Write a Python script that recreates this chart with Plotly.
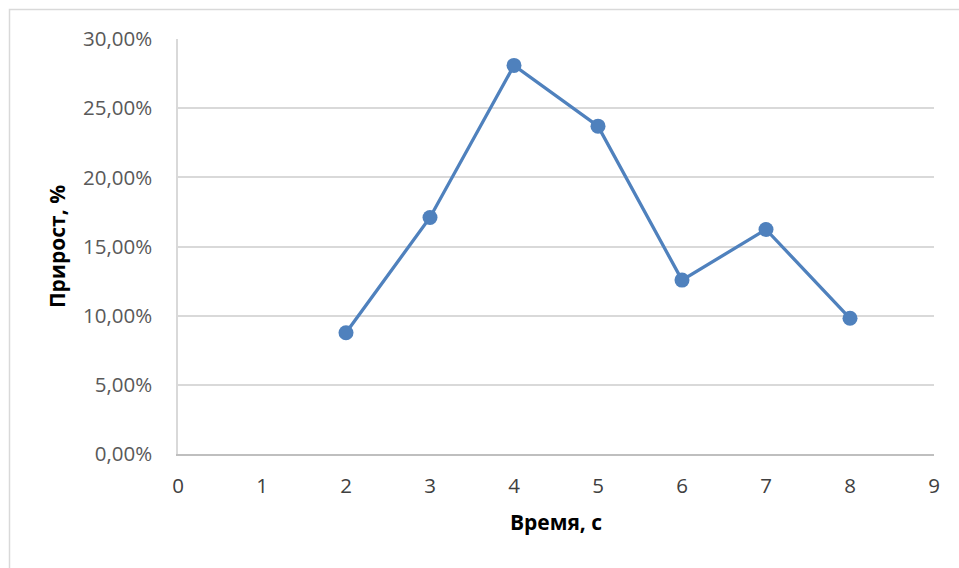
import plotly.graph_objects as go

# Measured growth per time step
time_s = [2, 3, 4, 5, 6, 7, 8]
growth = [0.0877, 0.1710, 0.2809, 0.2370, 0.1257, 0.1623, 0.0981]

y_ticks = [0, 0.05, 0.10, 0.15, 0.20, 0.25, 0.30]
x_ticks = [0, 1, 2, 3, 4, 5, 6, 7, 8, 9]

x_title = "Время, с"
y_title = "Прирост, %"

blue = "#4f81bd"
font_family = "Open Sans, Lato, sans-serif"

fig = go.Figure()
fig.add_trace(go.Scatter(
    x=time_s,
    y=growth,
    mode="lines+markers",
    line=dict(color=blue, width=3.3),
    marker=dict(color=blue, size=15),
    showlegend=False,
    hoverinfo="x+y",
))

fig.update_layout(
    width=959,
    height=568,
    margin=dict(l=178, r=25, t=39, b=114, pad=0),
    paper_bgcolor="white",
    plot_bgcolor="white",
    separators=", ",
    font=dict(family=font_family, color="#595959", size=20),
    xaxis=dict(
        range=[0, 9],
        tickvals=x_ticks,
        showgrid=False,
        zeroline=False,
        showline=True,
        linecolor="#bfbfbf",
        linewidth=2,
        ticks="",
        ticklabelstandoff=12,
        tickfont=dict(size=20.5, color="#404040"),
        title=dict(text=x_title, standoff=18,
                   font=dict(size=21, color="#000000", family=font_family, weight="bold")),
    ),
    yaxis=dict(
        range=[0, 0.30],
        tickvals=y_ticks,
        tickformat=".2%",
        showgrid=True,
        gridcolor="#d9d9d9",
        gridwidth=1.5,
        zeroline=False,
        showline=True,
        linecolor="#d9d9d9",
        linewidth=1.5,
        ticks="",
        ticklabelstandoff=20,
        tickfont=dict(size=20.5, color="#595959"),
        title=dict(text=y_title, standoff=12,
                   font=dict(size=21, color="#000000", family=font_family, weight="bold")),
    ),
    shapes=[
        # Outer chart border
        dict(type="rect", xref="paper", yref="paper",
             x0=(9.5 - 178) / 756, x1=(970 - 178) / 756,
             y0=(453.7 - 580) / 414.7, y1=(453.7 - 9.5) / 414.7,
             line=dict(color="#d9d9d9", width=1.5), fillcolor="rgba(0,0,0,0)",
             layer="below"),
    ],
)

fig.write_html("out.html")
